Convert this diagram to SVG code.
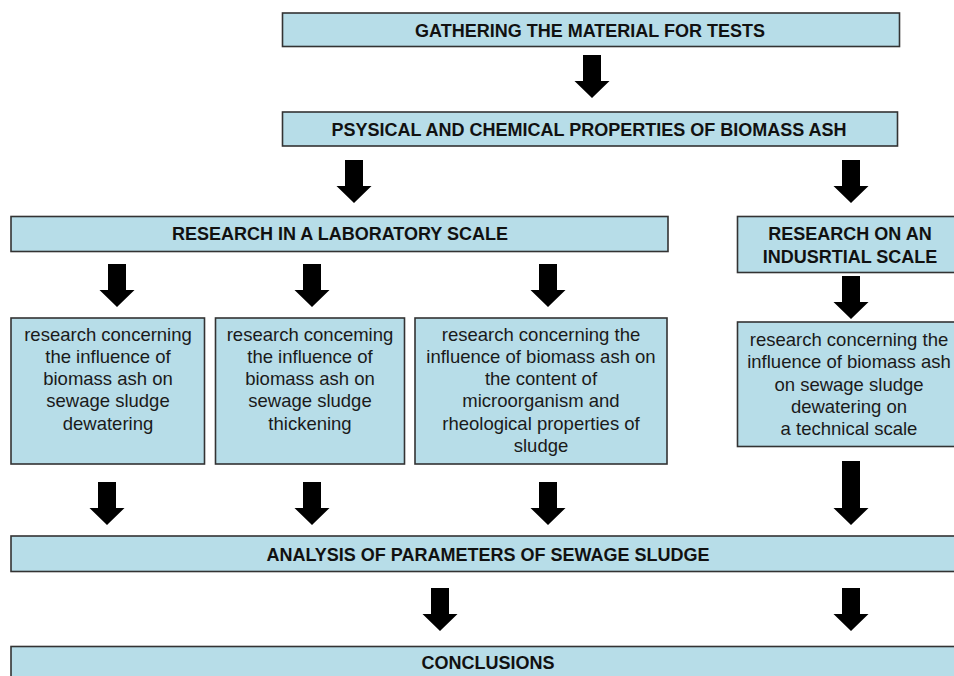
<svg xmlns="http://www.w3.org/2000/svg" width="954" height="676" viewBox="0 0 954 676">
<style>
.box{fill:#b7dde8;stroke:#333;stroke-width:1.6}
.h{font-family:"Liberation Sans",Arial,sans-serif;font-weight:bold;font-size:18px;fill:#111;text-anchor:middle}
.t{font-family:"Liberation Sans",Arial,sans-serif;font-size:18.5px;fill:#1a1a1a;text-anchor:middle}
.arr{fill:#000}
</style>
<defs>
<path id="a43" d="M-9,0 H9 V26 H17.5 L0,43 L-17.5,26 H-9 Z"/>
<path id="a64" d="M-9,0 H9 V47 H17.5 L0,64 L-17.5,47 H-9 Z"/>
</defs>
<rect width="954" height="676" fill="#fff"/>
<g id="connectors" class="arr">
<use href="#a43" x="592" y="55"/>
<use href="#a43" x="354" y="160"/>
<use href="#a43" x="851" y="160"/>
<use href="#a43" x="117" y="264"/>
<use href="#a43" x="312" y="264"/>
<use href="#a43" x="548" y="264"/>
<use href="#a43" x="851" y="276"/>
<use href="#a43" x="107" y="482"/>
<use href="#a43" x="312" y="482"/>
<use href="#a43" x="548" y="482"/>
<use href="#a64" x="851" y="461"/>
<use href="#a43" x="440" y="588"/>
<use href="#a43" x="851" y="588"/>
</g>
<g id="gathering">
<rect class="box" x="282.5" y="13" width="617" height="33.5"/>
<text class="h" x="590" y="36.5">GATHERING THE MATERIAL FOR TESTS</text>
</g>
<g id="properties">
<rect class="box" x="282.5" y="112" width="615" height="34"/>
<text class="h" x="589" y="135.8">PSYSICAL AND CHEMICAL PROPERTIES OF BIOMASS ASH</text>
</g>
<g id="lab">
<rect class="box" x="11" y="216.5" width="657" height="35"/>
<text class="h" x="340" y="239.8">RESEARCH IN A LABORATORY SCALE</text>
</g>
<g id="industrial">
<rect class="box" x="737.5" y="216.5" width="230" height="56"/>
<text class="h" x="850" y="239.8">RESEARCH ON AN</text>
<text class="h" x="850" y="262.5">INDUSRTIAL SCALE</text>
</g>
<g id="dewatering">
<rect class="box" x="11" y="318" width="193.5" height="146"/>
<text class="t" x="108" y="340.5">research concerning</text>
<text class="t" x="108" y="362.8">the influence of</text>
<text class="t" x="108" y="385.1">biomass ash on</text>
<text class="t" x="108" y="407.4">sewage sludge</text>
<text class="t" x="108" y="429.7">dewatering</text>
</g>
<g id="thickening">
<rect class="box" x="215.5" y="318" width="189" height="146"/>
<text class="t" x="310" y="340.5">research conceming</text>
<text class="t" x="310" y="362.8">the influence of</text>
<text class="t" x="310" y="385.1">biomass ash on</text>
<text class="t" x="310" y="407.4">sewage sludge</text>
<text class="t" x="310" y="429.7">thickening</text>
</g>
<g id="microorganism">
<rect class="box" x="415" y="318" width="252" height="146"/>
<text class="t" x="541" y="340.5">research concerning the</text>
<text class="t" x="541" y="362.8">influence of biomass ash on</text>
<text class="t" x="541" y="385.1">the content of</text>
<text class="t" x="541" y="407.4">microorganism and</text>
<text class="t" x="541" y="429.7">rheological properties of</text>
<text class="t" x="541" y="452">sludge</text>
</g>
<g id="technical">
<rect class="box" x="737.5" y="322" width="230" height="124.5"/>
<text class="t" x="849" y="346">research concerning the</text>
<text class="t" x="849" y="368.3">influence of biomass ash</text>
<text class="t" x="849" y="390.6">on sewage sludge</text>
<text class="t" x="849" y="412.9">dewatering on</text>
<text class="t" x="849" y="435.2">a technical scale</text>
</g>
<g id="analysis">
<rect class="box" x="11" y="536" width="960" height="35.5"/>
<text class="h" x="488" y="560.5">ANALYSIS OF PARAMETERS OF SEWAGE SLUDGE</text>
</g>
<g id="conclusions">
<rect class="box" x="11" y="646.5" width="960" height="40"/>
<text class="h" x="488" y="669">CONCLUSIONS</text>
</g>
</svg>
